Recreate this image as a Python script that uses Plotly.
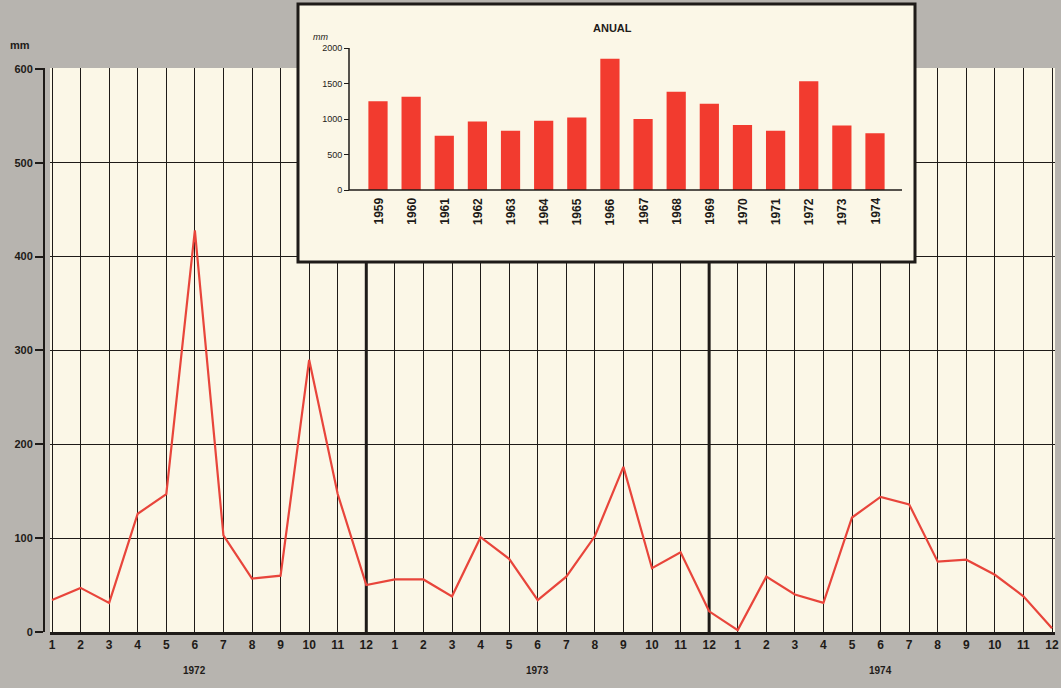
import plotly.graph_objects as go

W, H = 1061, 688

# monthly rainfall (mm)
years = ["1972", "1973", "1974"]
rain_1972 = [34, 47, 31, 126, 147, 428, 103, 57, 60, 290, 147, 50]
rain_1973 = [56, 56, 38, 101, 78, 34, 59, 102, 176, 68, 85, 22]
rain_1974 = [2, 59, 40, 31, 122, 144, 136, 75, 77, 61, 38, 4]
month_labels = [str(m) for m in range(1, 13)]
y_ticks = [0, 100, 200, 300, 400, 500, 600]

# annual totals (inset)
annual_years = list(range(1959, 1975))
annual_mm = [1250, 1315, 765, 965, 835, 975, 1020, 1850, 1000, 1385, 1215, 915, 835, 1530, 910, 800]
annual_ticks = [0, 500, 1000, 1500, 2000]

BG = "#b7b4af"
PAPER = "#fbf7e7"
INK = "#1e1b18"
RED = "#e8453b"
BAR = "#f23b2f"
FONT = "Liberation Sans, Arial, sans-serif"


def px_x(p):
    return p / W


def px_y(p):
    return 1 - p / H


monthly = rain_1972 + rain_1973 + rain_1974
idx = list(range(1, len(monthly) + 1))

# main axes: month 1 at x=52px, month 36 at x=1052px
step = (1052 - 52) / 35
x_lo = 1 - (52 - 50) / step
x_hi = 36 + (1055 - 1052) / step

# inset axes: 1959 bar at 378px, 1974 at 875px; 0 mm at 190px, 2000 mm at 48px
ystep = (875 - 378) / 15
ppu = (190 - 48) / 2000
box_l, box_r, box_t, box_b = 298, 915, 4, 262


def ix(p):
    return 1959 + (p - 378) / ystep


def iy(p):
    return (190 - p) / ppu


x2_lo, x2_hi = ix(box_l - 3), ix(box_r + 3)
y2_lo, y2_hi = iy(box_b + 3), iy(box_t - 3)

fig = go.Figure()
fig.add_trace(
    go.Scatter(
        x=idx,
        y=monthly,
        mode="lines",
        line={"color": RED, "width": 2.2},
        xaxis="x",
        yaxis="y",
        hoverinfo="y",
    )
)
fig.add_trace(
    go.Bar(
        x=annual_years,
        y=annual_mm,
        marker={"color": BAR, "line": {"width": 0}},
        width=0.58,
        xaxis="x2",
        yaxis="y2",
    )
)

shapes = [
    # cream chart paper under the monthly grid
    {
        "type": "rect", "xref": "paper", "yref": "paper",
        "x0": px_x(50), "x1": px_x(1055), "y0": px_y(632), "y1": px_y(68),
        "fillcolor": PAPER, "line": {"width": 0}, "layer": "below",
    },
    # inset card
    {
        "type": "rect", "xref": "x2", "yref": "y2",
        "x0": ix(box_l), "x1": ix(box_r), "y0": iy(box_b), "y1": iy(box_t),
        "fillcolor": PAPER, "line": {"color": INK, "width": 3}, "layer": "below",
    },
    # inset axis line and baseline
    {
        "type": "line", "xref": "paper", "yref": "y2",
        "x0": px_x(349), "x1": px_x(349), "y0": 0, "y1": 2000,
        "line": {"color": INK, "width": 1.5}, "layer": "above",
    },
    {
        "type": "line", "xref": "x2", "yref": "y2",
        "x0": ix(349), "x1": ix(902), "y0": 0, "y1": 0,
        "line": {"color": INK, "width": 1.5}, "layer": "above",
    },
]
# heavy year separators
for sep in (12, 24):
    shapes.append({
        "type": "line", "xref": "x", "yref": "y",
        "x0": sep, "x1": sep, "y0": 0, "y1": 600,
        "line": {"color": INK, "width": 3}, "layer": "between",
    })

annotations = [
    {"text": "<b>mm</b>", "x": px_x(20), "y": px_y(45), "xref": "paper", "yref": "paper",
     "xanchor": "center", "yanchor": "middle",
     "showarrow": False, "font": {"size": 11, "color": INK}},
    {"text": "<b>ANUAL</b>", "x": px_x(612), "y": px_y(28), "xref": "paper", "yref": "paper",
     "xanchor": "center", "yanchor": "middle",
     "showarrow": False, "font": {"size": 11, "color": INK}},
    {"text": "<i>mm</i>", "x": px_x(320), "y": px_y(37), "xref": "paper", "yref": "paper",
     "xanchor": "center", "yanchor": "middle",
     "showarrow": False, "font": {"size": 9, "color": INK}},
]
for i, yr in enumerate(years):
    annotations.append({
        "text": f"<b>{yr}</b>", "x": 12 * i + 6, "y": px_y(670), "xref": "x", "yref": "paper",
        "xanchor": "center", "yanchor": "middle",
        "showarrow": False, "font": {"size": 10, "color": INK},
    })
for yr in annual_years:
    annotations.append({
        "text": f"<b>{yr}</b>", "x": yr, "y": 0, "xref": "x2", "yref": "y2",
        "textangle": -90, "xanchor": "center", "yanchor": "top", "yshift": -6,
        "showarrow": False, "font": {"size": 12, "color": INK},
    })

fig.update_layout(
    width=W,
    height=H,
    margin={"l": 0, "r": 0, "t": 0, "b": 0},
    paper_bgcolor=BG,
    plot_bgcolor="rgba(0,0,0,0)",
    showlegend=False,
    font={"family": FONT, "color": INK},
    shapes=shapes,
    annotations=annotations,
    xaxis={
        "domain": [px_x(50), px_x(1055)],
        "range": [x_lo, x_hi],
        "tickvals": idx,
        "ticktext": month_labels * len(years),
        "showgrid": True, "gridcolor": INK, "gridwidth": 1.3,
        "showline": True, "linecolor": INK, "linewidth": 2.5,
        "ticks": "", "zeroline": False, "automargin": False,
        "tickfont": {"size": 12, "color": INK, "weight": "bold"},
        "anchor": "y",
    },
    yaxis={
        "domain": [px_y(632), px_y(68)],
        "range": [0, 601],
        "tickvals": y_ticks,
        "anchor": "free", "position": px_x(44),
        "showline": True, "linecolor": INK, "linewidth": 2,
        "ticks": "outside", "ticklen": 8, "tickcolor": INK, "tickwidth": 1.5,
        "showgrid": True, "gridcolor": INK, "gridwidth": 1.3,
        "zeroline": False, "automargin": False,
        "tickfont": {"size": 11, "color": INK, "weight": "bold"},
    },
    xaxis2={
        "domain": [px_x(box_l - 3), px_x(box_r + 3)],
        "range": [x2_lo, x2_hi],
        "showticklabels": False, "showgrid": False, "zeroline": False,
        "showline": False, "ticks": "", "anchor": "y2", "automargin": False,
    },
    yaxis2={
        "domain": [px_y(box_b + 3), px_y(box_t - 3)],
        "range": [y2_lo, y2_hi],
        "tickvals": annual_ticks,
        "anchor": "free", "position": px_x(349),
        "ticks": "outside", "ticklen": 5, "tickcolor": INK, "tickwidth": 1.2,
        "showgrid": False, "showline": False, "zeroline": False, "automargin": False,
        "tickfont": {"size": 9, "color": INK},
    },
)

# drop the browser's default 8px body margin so the figure sits at the window origin
fig.write_html(
    "out.html",
    config={"displayModeBar": False},
    post_script="document.body.style.margin = '0';",
)
